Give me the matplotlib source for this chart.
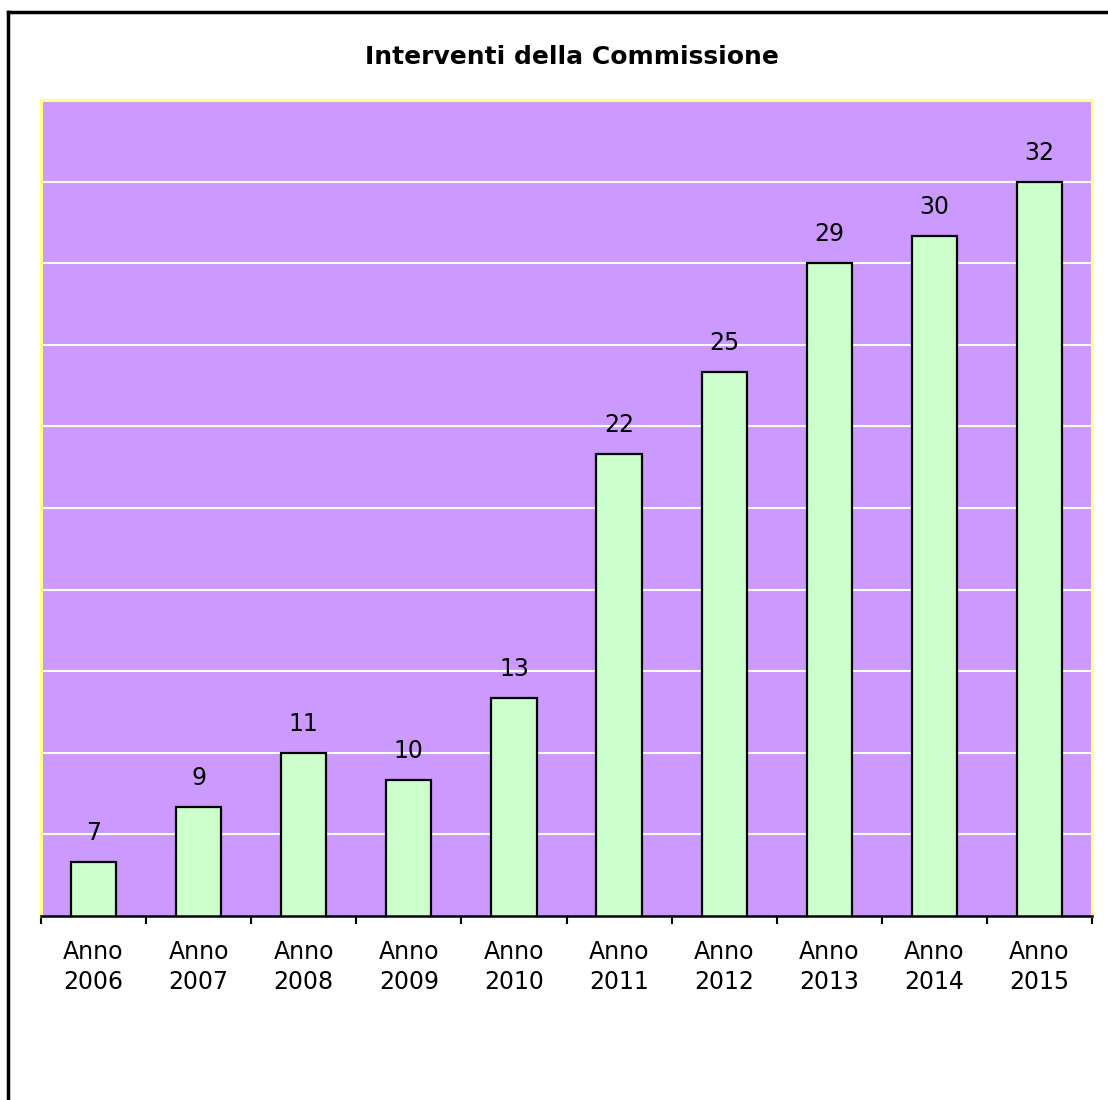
import matplotlib.pyplot as plt
import numpy as np
from matplotlib.lines import Line2D

plt.rcParams['font.family'] = ['DejaVu Sans']

anni = ['2006', '2007', '2008', '2009', '2010', '2011', '2012', '2013', '2014', '2015']
interventi = [7, 9, 11, 10, 13, 22, 25, 29, 30, 32]
labels = ['Anno\n' + a for a in anni]

W, H = 1108, 1100
fig = plt.figure(figsize=(W / 100, H / 100), dpi=100)
ax = fig.add_axes([41 / W, 1 - 916 / H, (1092 - 41) / W, (916 - 100) / H])
ax.set_facecolor('#CC99FF')

x = np.arange(len(anni))
ax.bar(x, interventi, width=0.43, color='#CCFFCC', edgecolor='black',
       linewidth=1.6, zorder=3)

for xi, v in zip(x, interventi):
    ax.annotate(str(v), (xi, v), xytext=(0, 29), textcoords='offset pixels',
                ha='center', va='center', fontsize=17)

ax.set_xlim(-0.5, len(anni) - 0.5)
ax.set_ylim(5, 35)
for g in range(8, 35, 3):
    ax.axhline(g, color='white', linewidth=1.5, zorder=1)

ax.set_yticks([])
ax.set_xticks(x)
ax.set_xticklabels(labels, fontsize=17, linespacing=1.35)
ax.tick_params(axis='x', which='major', length=0, pad=17)
ax.set_xticks(np.arange(-0.5, len(anni)), minor=True)
ax.tick_params(axis='x', which='minor', length=6, width=1.5, color='black',
               direction='out')

for s in ['left', 'top', 'right']:
    ax.spines[s].set_color('#FFFF88')
    ax.spines[s].set_linewidth(2.2)
ax.spines['bottom'].set_color('black')
ax.spines['bottom'].set_linewidth(1.8)
ax.spines['bottom'].set_zorder(4)

fig.text(572 / W, 1 - 57 / H, 'Interventi della Commissione', ha='center',
         va='center', fontsize=18, fontweight='bold')

# chart area frame
fig.add_artist(Line2D([8 / W, 8 / W], [0, 1 - 12 / H], color='black', linewidth=2.5))
fig.add_artist(Line2D([8 / W, 1], [1 - 12 / H, 1 - 12 / H], color='black', linewidth=2.5))

fig.savefig('out.png', dpi=100)
